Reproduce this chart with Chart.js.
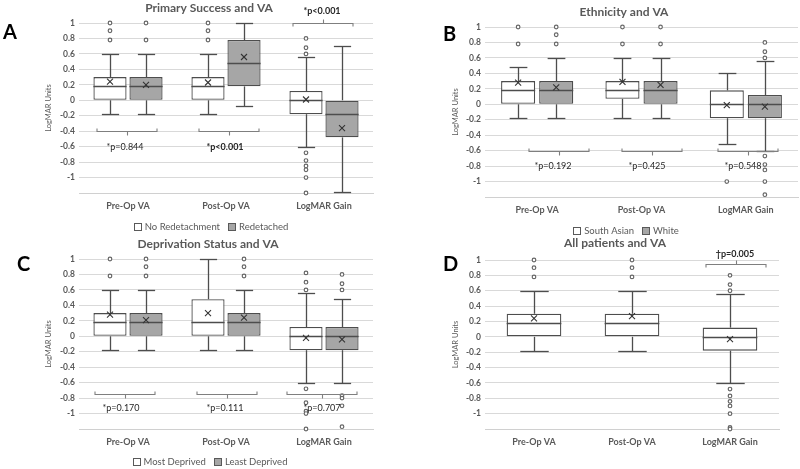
<!DOCTYPE html>
<html>
<head>
<meta charset="utf-8">
<script src="https://cdn.jsdelivr.net/npm/chart.js@4/dist/chart.umd.min.js"></script>
<style>
  html, body { margin: 0; padding: 0; background: #fff; }
  body { position: relative; width: 800px; height: 469px; overflow: hidden; }
  canvas { position: absolute; }
</style>
</head>
<body>
<script>
const categories = ['Pre-Op VA', 'Post-Op VA', 'LogMAR Gain'];
const yMin = -1.2, yMax = 1, yStep = 0.2;
const fills = ['#ffffff', '#a6a6a6'];

// A - primary success (rows: series, cols: categories)
const aNames = ['No Redetachment', 'Redetached'];
const aLow  = [[-0.18, -0.18, -0.6], [-0.18, -0.08, -1.19]];
const aQ1   = [[0, 0, -0.18], [0, 0.18, -0.48]];
const aMed  = [[0.18, 0.18, 0], [0.18, 0.48, -0.18]];
const aQ3   = [[0.3, 0.3, 0.12], [0.3, 0.78, 0]];
const aHigh = [[0.6, 0.6, 0.56], [0.6, 1, 0.7]];
const aMean = [[0.24, 0.23, 0.01], [0.2, 0.56, -0.36]];
const aOut  = [[[0.78, 0.9, 1], [0.78, 0.9, 1], [0.8, 0.68, 0.6, -0.68, -0.78, -0.85, -0.9, -1, -1.2]],
               [[0.78, 1], [], []]];

// B - ethnicity
const bNames = ['South Asian', 'White'];
const bLow  = [[-0.18, -0.18, -0.52], [-0.18, -0.18, -0.6]];
const bQ1   = [[0, 0.07, -0.18], [0, 0, -0.18]];
const bMed  = [[0.18, 0.18, 0], [0.18, 0.18, 0]];
const bQ3   = [[0.3, 0.3, 0.18], [0.3, 0.3, 0.12]];
const bHigh = [[0.48, 0.6, 0.4], [0.6, 0.6, 0.56]];
const bMean = [[0.28, 0.29, -0.01], [0.22, 0.25, -0.03]];
const bOut  = [[[0.78, 1], [0.78, 1], [-1]],
               [[0.78, 0.9, 1], [0.78, 1], [0.8, 0.68, 0.6, -0.67, -0.78, -0.85, -1, -1.17]]];

// C - deprivation
const cNames = ['Most Deprived', 'Least Deprived'];
const cLow  = [[-0.18, -0.18, -0.6], [-0.18, -0.18, -0.6]];
const cQ1   = [[0, 0, -0.18], [0, 0, -0.18]];
const cMed  = [[0.18, 0.18, 0], [0.18, 0.18, 0]];
const cQ3   = [[0.3, 0.48, 0.12], [0.3, 0.3, 0.12]];
const cHigh = [[0.6, 1, 0.56], [0.6, 0.6, 0.48]];
const cMean = [[0.28, 0.3, -0.02], [0.21, 0.24, -0.04]];
const cOut  = [[[0.78, 1], [], [0.82, 0.7, 0.6, -0.68, -0.86, -0.97, -1, -1.2]],
               [[0.78, 0.9, 1], [0.78, 0.9, 1], [0.8, 0.68, 0.6, -0.77, -0.8, -0.9, -1.17]]];

// D - all patients
const dNames = ['All patients'];
const dLow  = [[-0.18, -0.18, -0.6]];
const dQ1   = [[0, 0, -0.18]];
const dMed  = [[0.18, 0.18, 0]];
const dQ3   = [[0.3, 0.3, 0.12]];
const dHigh = [[0.6, 0.6, 0.56]];
const dMean = [[0.24, 0.27, -0.03]];
const dOut  = [[[0.78, 0.9, 1], [0.78, 0.9, 1], [0.8, 0.68, 0.6, -0.68, -0.77, -0.84, -0.9, -1, -1.18, -1.2]]];

Chart.defaults.font.family = 'Lato, "Open Sans", sans-serif';
const grey = '#595959';

function line(ctx, x1, y1, x2, y2) {
  ctx.beginPath(); ctx.moveTo(x1, y1); ctx.lineTo(x2, y2); ctx.stroke();
}
const px = v => Math.round(v) + 0.5;

function makePanel(p) {
  const [cx, cy, cw, ch] = p.rect;
  const cv = document.createElement('canvas');
  cv.width = cw; cv.height = ch;
  cv.style.left = cx + 'px'; cv.style.top = cy + 'px';
  document.body.appendChild(cv);
  const L = p.area[0] - cx, T = p.area[1] - cy, R = p.area[2] - cx, B = p.area[3] - cy;
  const xH = 20;

  const boxPlugin = {
    id: 'boxes',
    afterDatasetsDraw(chart) {
      const ctx = chart.ctx, y = chart.scales.y;
      p.names.forEach((n, i) => {
        chart.getDatasetMeta(i).data.forEach((bar, j) => {
          const x = px(bar.x), w = bar.width, cap = w * 0.26;
          const yl = px(y.getPixelForValue(p.low[i][j]));
          const y1 = y.getPixelForValue(p.q1[i][j]);
          const ym = px(y.getPixelForValue(p.med[i][j]));
          const y3 = y.getPixelForValue(p.q3[i][j]);
          const yh = px(y.getPixelForValue(p.high[i][j]));
          ctx.save();
          ctx.strokeStyle = '#4d4d4d'; ctx.lineWidth = 1.3;
          line(ctx, x, y3, x, yh); line(ctx, x - cap, yh, x + cap, yh);
          line(ctx, x, y1, x, yl); line(ctx, x - cap, yl, x + cap, yl);
          line(ctx, bar.x - w / 2, ym, bar.x + w / 2, ym);
          // mean marker
          const ya = y.getPixelForValue(p.mean[i][j]);
          ctx.strokeStyle = '#333'; ctx.lineWidth = 1.1;
          line(ctx, bar.x - 3, ya - 3, bar.x + 3, ya + 3);
          line(ctx, bar.x - 3, ya + 3, bar.x + 3, ya - 3);
          // outliers
          ctx.strokeStyle = '#666'; ctx.fillStyle = '#fff'; ctx.lineWidth = 1.2;
          p.out[i][j].forEach(v => {
            ctx.beginPath();
            ctx.arc(bar.x, y.getPixelForValue(v), 1.8, 0, Math.PI * 2);
            ctx.fill(); ctx.stroke();
          });
          ctx.restore();
        });
      });
    },
    afterDraw(chart) {
      const ctx = chart.ctx, y = chart.scales.y;
      ctx.save();
      // brackets with p values
      p.brackets.forEach(b => {
        const bx = b.cx - cx, by = px(y.getPixelForValue(b.y));
        const ty = y.getPixelForValue(b.ty);
        const s = ty > by ? 1 : -1; // direction of the label
        ctx.strokeStyle = '#7f7f7f'; ctx.lineWidth = 1.1;
        ctx.beginPath();
        ctx.moveTo(bx - b.half, by - 3 * s); ctx.lineTo(bx - b.half, by);
        ctx.lineTo(bx + b.half, by); ctx.lineTo(bx + b.half, by - 3 * s);
        ctx.stroke();
        line(ctx, px(bx), by, px(bx), by + 4 * s);
        ctx.fillStyle = '#262626';
        ctx.font = (b.bold ? 'bold ' : '') + '9px Lato';
        ctx.textAlign = 'center'; ctx.textBaseline = 'middle';
        ctx.fillText(b.text, b.tx - cx, ty);
      });
      // title
      ctx.fillStyle = grey; ctx.font = 'bold 12px Lato';
      ctx.textAlign = 'center'; ctx.textBaseline = 'middle';
      ctx.fillText(p.title, p.titlePos[0] - cx, p.titlePos[1] - cy);
      // panel letter
      ctx.fillStyle = '#000'; ctx.font = 'bold 20px Lato';
      ctx.textAlign = 'left'; ctx.textBaseline = 'alphabetic';
      ctx.fillText(p.letter, p.letterPos[0] - cx, p.letterPos[1] - cy);
      // axis title
      ctx.save();
      ctx.translate(p.axisX - cx, (T + B) / 2);
      ctx.rotate(-Math.PI / 2);
      ctx.fillStyle = grey; ctx.font = '7.5px Lato';
      ctx.textAlign = 'center'; ctx.textBaseline = 'middle';
      ctx.fillText('LogMAR Units', 0, 0);
      ctx.restore();
      // legend
      if (p.legend) {
        ctx.font = '9.5px Lato'; ctx.textBaseline = 'middle'; ctx.textAlign = 'left';
        const widths = p.names.map(n => 7 + 4 + ctx.measureText(n).width);
        const total = widths.reduce((a, c) => a + c, 0) + 8 * (widths.length - 1);
        let lx = p.legend[0] - cx - total / 2;
        const ly = p.legend[1] - cy;
        p.names.forEach((n, i) => {
          ctx.fillStyle = fills[i]; ctx.strokeStyle = grey; ctx.lineWidth = 1;
          ctx.fillRect(Math.round(lx) + 0.5, Math.round(ly - 4) + 0.5, 7, 7);
          ctx.strokeRect(Math.round(lx) + 0.5, Math.round(ly - 4) + 0.5, 7, 7);
          ctx.fillStyle = grey;
          ctx.fillText(n, lx + 11, ly);
          lx += widths[i] + 8;
        });
      }
      ctx.restore();
    }
  };

  return new Chart(cv, {
    type: 'bar',
    data: {
      labels: categories,
      datasets: p.names.map((n, i) => ({
        label: n,
        data: p.q1[i].map((v, j) => [v, p.q3[i][j]]),
        backgroundColor: fills[i],
        borderColor: '#4d4d4d',
        borderWidth: 1.3,
        borderSkipped: false,
        categoryPercentage: p.catPct,
        barPercentage: p.barPct
      }))
    },
    options: {
      responsive: false,
      animation: false,
      devicePixelRatio: 1,
      layout: { padding: { left: 0, top: T, right: cw - R, bottom: ch - B - xH } },
      plugins: { legend: { display: false }, tooltip: { enabled: false }, title: { display: false } },
      scales: {
        x: {
          grid: { display: false, drawTicks: false },
          border: { display: true, color: '#d0d0d0' },
          ticks: { padding: 8, color: grey, font: { size: 9, weight: 'bold' } },
          afterFit: s => { s.height = xH; }
        },
        y: {
          min: yMin, max: yMax,
          grid: { color: '#d9d9d9', drawTicks: false },
          border: { display: false },
          ticks: {
            stepSize: yStep, padding: 4, color: grey,
            font: { size: 8.5, weight: 'bold' },
            callback: v => v < -1.1 ? '' : String(Math.round(v * 10) / 10)
          },
          afterFit: s => { s.width = L; }
        }
      }
    },
    plugins: [boxPlugin]
  });
}

makePanel({
  rect: [0, 0, 400, 235], area: [79, 23, 373, 193],
  names: aNames, low: aLow, q1: aQ1, med: aMed, q3: aQ3, high: aHigh, mean: aMean, out: aOut,
  catPct: 0.735, barPct: 0.92,
  title: 'Primary Success and VA', titlePos: [209, 8],
  letter: 'A', letterPos: [3, 39], axisX: 49, legend: [211, 227],
  brackets: [
    { cx: 127, half: 30, y: -0.4, text: '*p=0.844', tx: 125, ty: -0.61, bold: false },
    { cx: 229, half: 30, y: -0.4, text: '*p<0.001', tx: 225, ty: -0.61, bold: true },
    { cx: 323, half: 30, y: 1.0, text: '*p<0.001', tx: 322, ty: 1.16, bold: true }
  ]
});

makePanel({
  rect: [400, 0, 400, 235], area: [485, 27, 798, 197],
  names: bNames, low: bLow, q1: bQ1, med: bMed, q3: bQ3, high: bHigh, mean: bMean, out: bOut,
  catPct: 0.73, barPct: 0.895,
  title: 'Ethnicity and VA', titlePos: [624, 12],
  letter: 'B', letterPos: [443, 41], axisX: 456, legend: [626, 231],
  brackets: [
    { cx: 559, half: 30, y: -0.61, text: '*p=0.192', tx: 553, ty: -0.8, bold: false },
    { cx: 652, half: 30, y: -0.61, text: '*p=0.425', tx: 647, ty: -0.8, bold: false },
    { cx: 748, half: 30, y: -0.61, text: '*p=0.548', tx: 743, ty: -0.8, bold: false }
  ]
});

makePanel({
  rect: [0, 235, 400, 234], area: [79, 259, 373, 429],
  names: cNames, low: cLow, q1: cQ1, med: cMed, q3: cQ3, high: cHigh, mean: cMean, out: cOut,
  catPct: 0.735, barPct: 0.92,
  title: 'Deprivation Status and VA', titlePos: [208, 244],
  letter: 'C', letterPos: [17, 271], axisX: 49, legend: [210, 462],
  brackets: [
    { cx: 125, half: 30, y: -0.745, text: '*p=0.170', tx: 121, ty: -0.93, bold: false },
    { cx: 227, half: 30, y: -0.745, text: '*p=0.111', tx: 225, ty: -0.93, bold: false },
    { cx: 322, half: 35, y: -0.745, text: '*p=0.707', tx: 322, ty: -0.93, bold: false }
  ]
});

makePanel({
  rect: [400, 235, 400, 234], area: [485, 260, 779, 429],
  names: dNames, low: dLow, q1: dQ1, med: dMed, q3: dQ3, high: dHigh, mean: dMean, out: dOut,
  catPct: 0.6, barPct: 0.93,
  title: 'All patients and VA', titlePos: [615, 243],
  letter: 'D', letterPos: [443, 271], axisX: 456, legend: null,
  brackets: [
    { cx: 736, half: 30, y: 0.95, text: '\u2020p=0.005', tx: 735, ty: 1.08, bold: true }
  ]
});
</script>
</body>
</html>
